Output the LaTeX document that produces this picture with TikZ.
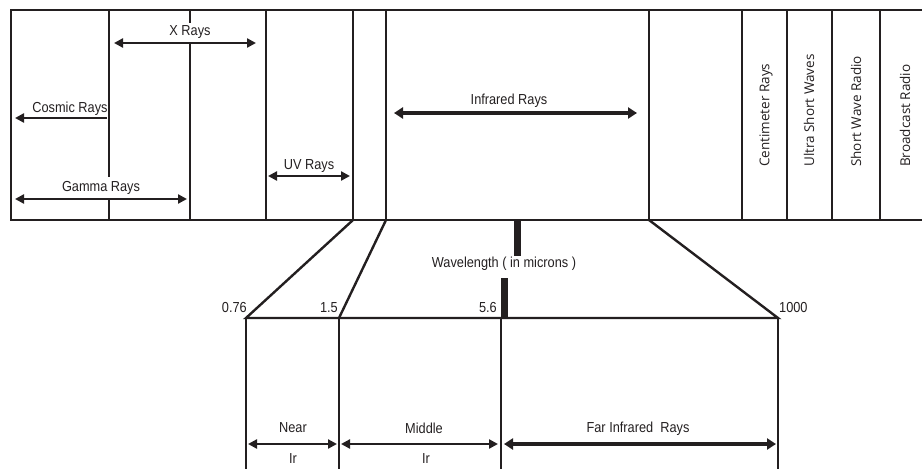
\documentclass[tikz,border=0pt]{standalone}
\usepackage{fontspec}
\setmainfont{Liberation Sans}
\newfontfamily\bandfont{Open Sans}
\usetikzlibrary{arrows.meta}
\definecolor{ink}{RGB}{35,31,32}
\tikzset{
  frameline/.style={draw=ink,line width=2.4pt},
  barline/.style={draw=ink,line width=7pt},
  rayline/.style={draw=ink,line width=2.4pt,
    {Triangle[length=9pt,width=9pt]}-{Triangle[length=9pt,width=9pt]}},
  bigray/.style={draw=ink,line width=4.8pt,
    {Triangle[length=9pt,width=11pt]}-{Triangle[length=9pt,width=11pt]}},
  lbl/.style={inner sep=0pt,text=ink,xscale=0.88,font=\fontsize{14.5}{16}\selectfont},
  bandlbl/.style={inner sep=0pt,text=ink,rotate=90,anchor=west,
    font=\bandfont\fontsize{13.5}{15}\selectfont},
}

\begin{document}
\begin{tikzpicture}[x=1pt,y=-1pt]
  \useasboundingbox (0,0) rectangle (922,469);
  % spectrum strip
  \draw[frameline] (923,10) -- (11,10) -- (11,220) -- (923,220);
  \foreach \x in {266,353,386,649,742,787,832,880}
    \draw[frameline] (\x,10) -- (\x,220);
  \draw[frameline] (109,10) -- (109,177) (109,199) -- (109,220);
  \draw[frameline] (190,10) -- (190,23) (190,43) -- (190,220);

  % short waves
  \node[lbl] (xray) at (190,32) {X Rays};
  \coordinate (xa) at (114,43); \coordinate (xb) at (256,43);
  \draw[rayline] (xa) -- (xb);
  \node[lbl] (cosmic) at (70,109) {Cosmic Rays};
  \coordinate (ca) at (107,118); \coordinate (cb) at (15,118);
  \draw[draw=ink,line width=2.4pt,-{Triangle[length=9pt,width=9pt]}] (ca) -- (cb);
  \node[lbl] (gamma) at (101,188) {Gamma Rays};
  \coordinate (ga) at (15,199); \coordinate (gb) at (187,199);
  \draw[rayline] (ga) -- (gb);
  \node[lbl] (uv) at (309,166) {UV Rays};
  \coordinate (ua) at (268,176); \coordinate (ub) at (350,176);
  \draw[rayline] (ua) -- (ub);
  \node[lbl] (infra) at (509,101) {Infrared Rays};
  \coordinate (ia) at (394,113); \coordinate (ib) at (637,113);
  \draw[bigray] (ia) -- (ib);

  % long waves
  \node[bandlbl] (cm) at (766,167) {Centimeter Rays};
  \node[bandlbl] (usw) at (809,167) {Ultra Short Waves};
  \node[bandlbl] (swr) at (856,167) {Short Wave Radio};
  \node[bandlbl] (bcr) at (905,167) {Broadcast Radio};

  % infrared blow-up
  \coordinate (uvR) at (353,220);
  \coordinate (irL) at (386,220);
  \coordinate (irR) at (649,220);
  \coordinate (p076) at (246,318);
  \coordinate (p15) at (339,318);
  \coordinate (p56) at (501,318);
  \coordinate (p1000) at (778,318);
  \draw[frameline] (uvR) -- (p076) -- (p1000) -- (irR);
  \draw[frameline] (irL) -- (p15);
  \foreach \p in {p076,p15,p56,p1000}
    \draw[frameline] (\p) -- ++(0,152);
  \draw[barline] (517,220) -- (517,256);
  \draw[barline] (504,278) -- (504,318);
  \node[lbl] (wave) at (504,264) {Wavelength ( in microns )};

  \node[lbl,anchor=east] (n076) at (247,308) {0.76};
  \node[lbl,anchor=east] (n15) at (338,308) {1.5};
  \node[lbl,anchor=east] (n56) at (497,308) {5.6};
  \node[lbl,anchor=west] (n1000) at (779,308) {1000};

  % sub-bands
  \node[lbl] (near) at (293,428) {Near};
  \node[lbl] (nearir) at (293,459) {Ir};
  \coordinate (na) at (248,444); \coordinate (nb) at (337,444);
  \draw[rayline] (na) -- (nb);
  \node[lbl] (mid) at (424,428) {Middle};
  \node[lbl] (midir) at (426,459) {Ir};
  \coordinate (ma) at (341,444); \coordinate (mb) at (498,444);
  \draw[rayline] (ma) -- (mb);
  \node[lbl] (far) at (638,429) {Far Infrared\ \ Rays};
  \coordinate (fa) at (504,444); \coordinate (fb) at (776,444);
  \draw[bigray] (fa) -- (fb);
\end{tikzpicture}
\end{document}
